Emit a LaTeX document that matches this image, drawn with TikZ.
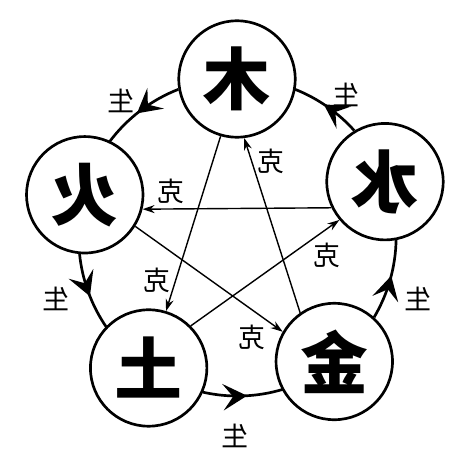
\documentclass[tikz,border=0pt]{standalone}
\usepackage{fontspec}
\usepackage{graphicx}
\newfontfamily\cjk{Noto Sans CJK SC}
\usetikzlibrary{arrows.meta, decorations.markings}

\begin{document}
\begin{tikzpicture}[
  x=0.025cm, y=0.025cm,
  element/.style={circle, draw, line width=1.9pt, fill=white, minimum size=2.91cm,
    inner sep=0pt, font=\cjk\bfseries\fontsize{48pt}{48pt}\selectfont},
  chevron/.tip={Stealth[length=6mm, width=6.6mm, inset=2.5mm]},
  sheng/.style={line width=1.9pt, postaction={decorate},
    decoration={markings, mark=at position 0.55 with {\arrow{chevron}}}},
  ke/.style={line width=1pt, -{Stealth[length=3mm, width=2mm]}},
  lbl/.style={font=\cjk\fontsize{19pt}{19pt}\selectfont, inner sep=0pt}
]
\useasboundingbox (-237,-237) rectangle (237,237);

% the five elements
\node[element] (mu)   at (90:158)    {\reflectbox{木}};
\node[element] (huo)  at (164.5:158) {\reflectbox{火}};
\node[element] (tu)   at (236:158)   {\reflectbox{土}};
\node[element] (jin)  at (308:158)   {\reflectbox{金}};
\node[element] (shui) at (20.5:158)  {\reflectbox{水}};

% generating cycle
\draw[sheng] (mu.190.7)   arc[start angle=111.4, end angle=143.1, radius=158];
\draw[sheng] (huo.265.2)  arc[start angle=185.9, end angle=214.6, radius=158];
\draw[sheng] (tu.336.7)   arc[start angle=257.4, end angle=286.6, radius=158];
\draw[sheng] (jin.48.7)   arc[start angle=329.4, end angle=359.1, radius=158];
\draw[sheng] (shui.121.2) arc[start angle=41.9,  end angle=68.6,  radius=158];

\node[lbl] (s1) at (-116,136) {\reflectbox{生}};
\node[lbl] (s2) at (-181,-62) {\reflectbox{生}};
\node[lbl] (s3) at (-2,-199)  {\reflectbox{生}};
\node[lbl] (s4) at (181,-62)  {\reflectbox{生}};
\node[lbl] (s5) at (109,142)  {\reflectbox{生}};

% overcoming cycle
\draw[ke] (mu.254.6)  -- (tu.73);
\draw[ke] (tu.45)     -- (shui.220);
\draw[ke] (shui.206.8) -- (huo.346);
\draw[ke] (huo.328.5) -- (jin.150);
\draw[ke] (jin.125)   -- (mu.277.5);

\node[lbl] (k1) at (-79.5,-43) {\reflectbox{克}};
\node[lbl] (k2) at (90.5,-18)  {\reflectbox{克}};
\node[lbl] (k3) at (-66,45.3)  {\reflectbox{克}};
\node[lbl] (k4) at (15.5,-100) {\reflectbox{克}};
\node[lbl] (k5) at (33.8,75.3) {\reflectbox{克}};

\end{tikzpicture}
\end{document}
